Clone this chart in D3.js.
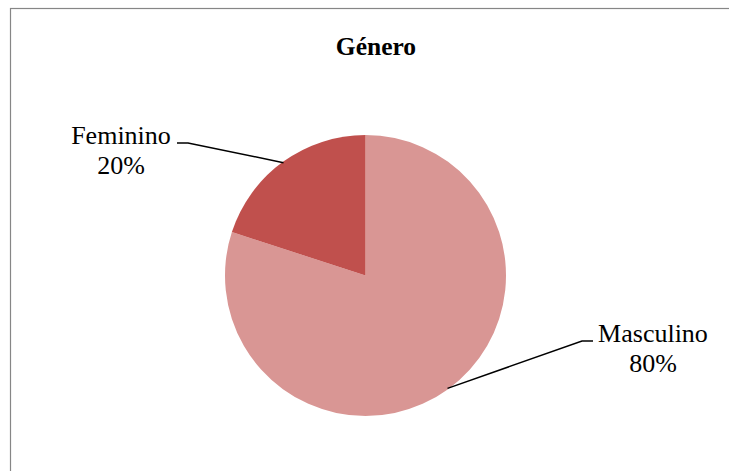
<!DOCTYPE html>
<html><head><meta charset="utf-8"><script src="https://cdn.jsdelivr.net/npm/d3@7"></script></head>
<body style="margin:0">
<script>
// data
var categories = ["Masculino", "Feminino"];
var values = [80, 20];
var colors = ["#D99694", "#C0504D"];
var title = "Género";

var width = 729, height = 471;
var cx = 365.5, cy = 275.5, radius = 140.5;
var fam = "Liberation Serif, Tinos, Times New Roman, serif";

// where each label's leader line bends (layout, not data)
var elbows = {
  "Masculino": {x: 582, y: 341, dir: 1},
  "Feminino": {x: 188, y: 143, dir: -1}
};

var svg = d3.select("body").append("svg")
    .attr("width", width)
    .attr("height", height);

// chart area border
svg.append("rect")
    .attr("x", 10.5).attr("y", 8.5)
    .attr("width", width + 20).attr("height", height + 20)
    .attr("fill", "none")
    .attr("stroke", "#868686")
    .attr("stroke-width", 1.2);

svg.append("text")
    .attr("x", 376).attr("y", 55)
    .style("font-family", fam)
    .style("font-size", "25.5px")
    .style("font-weight", "bold")
    .attr("text-anchor", "middle")
    .text(title);

var data = categories.map(function(c, i) { return {name: c, value: values[i], color: colors[i]}; });

var pie = d3.pie()
    .sort(null)
    .value(function(d) { return d.value; });

var arc = d3.arc().innerRadius(0).outerRadius(radius);

var arcs = pie(data);

svg.append("g")
    .attr("transform", "translate(" + cx + "," + cy + ")")
  .selectAll("path")
    .data(arcs)
  .enter().append("path")
    .attr("d", arc)
    .attr("fill", function(d) { return d.data.color; });

var total = d3.sum(values);

arcs.forEach(function(d) {
  var mid = (d.startAngle + d.endAngle) / 2;
  var r = radius - 1;
  var sx = cx + Math.sin(mid) * r,
      sy = cy - Math.cos(mid) * r;
  var e = elbows[d.data.name];
  var ex2 = e.x + e.dir * 11;

  svg.append("path")
      .attr("d", "M" + sx + "," + sy + "L" + e.x + "," + e.y + "L" + ex2 + "," + e.y)
      .attr("fill", "none")
      .attr("stroke", "#000")
      .attr("stroke-width", 1.5);

  // label block sits past the end of the leader
  var lx = e.dir > 0 ? ex2 + 60 : ex2 - 56;
  var pct = Math.round(d.data.value / total * 100) + "%";
  [d.data.name, pct].forEach(function(s, k) {
    svg.append("text")
        .attr("x", lx).attr("y", e.y + 1 + k * 30)
        .style("font-family", fam)
        .style("font-size", "26px")
        .attr("text-anchor", "middle")
        .text(s);
  });
});
</script>
</body>
</html>
